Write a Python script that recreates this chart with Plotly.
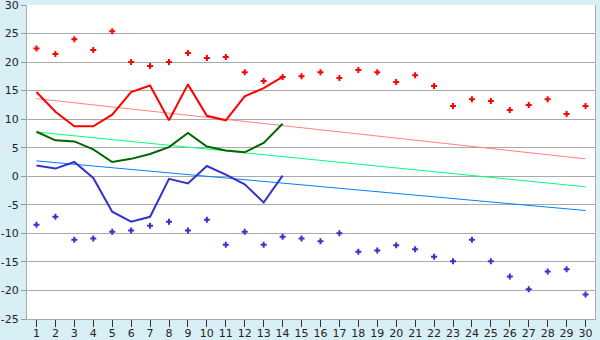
import plotly.graph_objects as go

days = list(range(1, 31))
max_dots = [22.4, 21.4, 24.0, 22.1, 25.4, 20.0, 19.3, 20.0, 21.6, 20.7,
            20.9, 18.2, 16.7, 17.4, 17.5, 18.2, 17.2, 18.6, 18.2, 16.5,
            17.7, 15.8, 12.3, 13.5, 13.2, 11.6, 12.5, 13.5, 10.9, 12.3]
min_dots = [-8.5, -7.1, -11.1, -10.9, -9.7, -9.5, -8.65, -7.95, -9.5, -7.6,
            -12.0, -9.7, -12.0, -10.6, -10.9, -11.4, -10.0, -13.2, -13.0, -12.1,
            -12.8, -14.1, -14.9, -11.1, -14.9, -17.55, -19.8, -16.7, -16.3, -20.7]
line_days = list(range(1, 15))
max_line = [14.75, 11.3, 8.75, 8.75, 10.8, 14.75, 15.9, 9.8, 16.1, 10.6, 9.8, 14.0, 15.45, 17.4]
mean_line = [7.8, 6.3, 6.1, 4.7, 2.5, 3.05, 3.9, 5.1, 7.6, 5.2, 4.5, 4.2, 5.85, 9.2]
min_line = [1.9, 1.35, 2.5, -0.3, -6.2, -7.95, -7.1, -0.45, -1.25, 1.8, 0.3, -1.4, -4.6, 0.1]
trend_days = [1, 30]
max_trend = [13.6, 3.05]
mean_trend = [7.75, -1.85]
min_trend = [2.7, -6.0]
y_ticks = [30, 25, 20, 15, 10, 5, 0, -5, -10, -15, -20, -25]

fig = go.Figure()
fig.add_trace(go.Scatter(x=trend_days, y=max_trend, mode="lines", line=dict(color="#ff8080", width=1)))
fig.add_trace(go.Scatter(x=trend_days, y=mean_trend, mode="lines", line=dict(color="#00ff80", width=1)))
fig.add_trace(go.Scatter(x=trend_days, y=min_trend, mode="lines", line=dict(color="#0080ff", width=1)))
fig.add_trace(go.Scatter(x=line_days, y=max_line, mode="lines", line=dict(color="#ff0000", width=2)))
fig.add_trace(go.Scatter(x=line_days, y=mean_line, mode="lines", line=dict(color="#006600", width=2)))
fig.add_trace(go.Scatter(x=line_days, y=min_line, mode="lines", line=dict(color="#3333cc", width=2)))
fig.add_trace(go.Scatter(x=days, y=max_dots, mode="markers",
                         marker=dict(symbol="cross", size=5, color="#ff0000", line=dict(width=0))))
fig.add_trace(go.Scatter(x=days, y=min_dots, mode="markers",
                         marker=dict(symbol="cross", size=5, color="#3333cc", line=dict(width=0))))

fig.update_layout(
    width=600, height=340,
    margin=dict(l=27, r=5, t=5, b=21),
    paper_bgcolor="#d9eff6",
    plot_bgcolor="#ffffff",
    showlegend=False,
    font=dict(family="DejaVu Sans", size=11, color="#222222"),
)
fig.update_xaxes(range=[0.5, 30.5], tickmode="array", tickvals=days, ticktext=[str(d) for d in days],
                 showgrid=False, zeroline=False, ticks="outside", ticklen=7, tickcolor="#333333",
                 showline=True, linecolor="#aaaaaa", mirror=False, automargin=False,
                 ticklabeloverflow="allow", ticklabelstandoff=-3)
fig.update_yaxes(range=[-25, 30], tickmode="array", tickvals=y_ticks, ticktext=[str(v) for v in y_ticks],
                 showgrid=True, gridcolor="#aaaaaa", gridwidth=1, zeroline=False,
                 ticks="outside", ticklen=5, tickcolor="#999999",
                 showline=True, linecolor="#aaaaaa", mirror=True, automargin=False,
                 ticklabeloverflow="allow")

fig.write_html("out.html")
